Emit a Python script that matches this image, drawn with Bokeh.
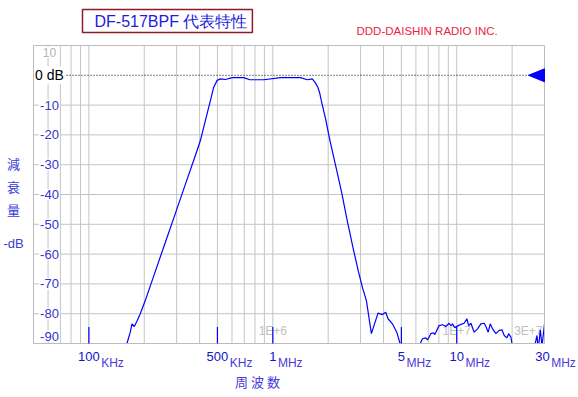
import math
from bokeh.plotting import figure
from bokeh.models import Label, Range1d
from bokeh.core.properties import value
from bokeh.embed import file_html
from bokeh.resources import INLINE

# ---------------- data ----------------
freq_hz = [148000, 161100, 167900, 171500, 176500, 182500, 190300, 202600, 229700, 260300,
           295100, 334600, 379300, 403900, 429900, 457900, 477100, 498000, 519000, 552600,
           601100, 695000, 749500, 893100, 1102000, 1416000, 1540000, 1639000, 1693000, 1758000,
           1803000, 1835000, 1936000, 2045000, 2196000, 2367000, 2552000, 2751000, 2930000, 3081000,
           3227000, 3436000, 3732000, 3944000, 4111000, 4231000, 4471000, 4719000, 4918000, 5283000,
           5768000, 6320000, 6512000, 6787000, 6934000, 7228000, 7475000, 7598000, 8018000, 8368000,
           8722000, 9091000, 9288000, 9486000, 9765000, 10180000, 10530000, 10970000, 11350000, 11600000,
           11940000, 12440000, 12980000, 13530000, 14100000, 14410000, 14830000, 15210000, 15670000, 16330000,
           17020000, 17610000, 18130000, 18750000, 19150000, 19710000, 19960000, 21780000, 24700000, 26730000,
           27310000, 27760000, 28470000, 29080000, 30000000]
atten_db = [-95, -90.0, -86.2, -83.4, -84.3, -82.5, -80.0, -75.6, -65.8, -56.1,
            -46.4, -36.6, -26.9, -21.9, -15.2, -8.5, -4.0, -1.7, -1.2, -1.4,
            -0.8, -0.8, -1.5, -1.5, -0.8, -0.8, -1.5, -1.2, -2.3, -4.0,
            -6.2, -8.5, -14.6, -21.9, -30.3, -39.3, -49.4, -58.8, -66.2, -71.5,
            -75.6, -86.7, -79.8, -80.3, -79.5, -81.7, -83.4, -86.2, -90.0, -94,
            -95, -90.1, -88.4, -88.1, -88.8, -86.7, -86.4, -87.0, -84.0, -83.7,
            -84.3, -83.2, -84.0, -83.4, -84.7, -84.0, -83.6, -83.2, -81.7, -84.0,
            -83.2, -86.2, -85.1, -83.4, -83.2, -84.3, -86.2, -83.4, -85.1, -86.7,
            -85.6, -85.4, -87.3, -88.1, -86.7, -87.9, -90.0, -94, -95, -90.0,
            -87.3, -92, -85.4, -91, -83.4]

x_grid_freqs = [6e4, 7e4, 8e4, 9e4,
                1e5, 2e5, 3e5, 4e5, 5e5, 6e5, 7e5, 8e5, 9e5,
                1e6, 2e6, 3e6, 4e6, 5e6, 6e6, 7e6, 8e6, 9e6,
                1e7, 2e7]
y_grid_db = [-80, -70, -60, -50, -40, -30, -20, -10]

y_tick_values = [10, 0, -10, -20, -30, -40, -50, -60, -70, -80, -90]
y_tick_labels = ["10", "0 dB", "-10", "-20", "-30", "-40", "-50", "-60", "-70", "-80", "-90"]

x_tick_freqs = [1e5, 5e5, 1e6, 5e6, 1e7, 3e7]
x_tick_numbers = ["100", "500", "1", "5", "10", "30"]
x_tick_units = ["KHz", "KHz", "MHz", "MHz", "MHz", "MHz"]

marker_freqs = [1e5, 5e5, 1e6, 5e6, 1e7]
exp_freqs = [1e6, 1e7]
exp_labels = ["1E+6", "1E+7"]
exp_right_freq = [3e7]
exp_right_label = ["3E+7"]

ref_level_db = 0

title_text = "DF-517BPF 代表特性"
company_text = "DDD-DAISHIN RADIO INC."
x_axis_title = "周 波 数"
y_axis_title = ["減", "衰", "量", "-dB"]

# ---------------- layout (page pixels) ----------------
X_MIN, X_MAX = 5e4, 3e7
Y_MIN, Y_MAX = -90, 10
FRAME_L, FRAME_R, FRAME_T, FRAME_B = 33, 544, 45, 343
W, H = 576, 395


def fx(px):
    return X_MIN * 10 ** ((px - FRAME_L) / (FRAME_R - FRAME_L) * math.log10(X_MAX / X_MIN))


def fy(py):
    return Y_MAX - (py - FRAME_T) / (FRAME_B - FRAME_T) * (Y_MAX - Y_MIN)


def dpy(n):
    return n * (Y_MAX - Y_MIN) / (FRAME_B - FRAME_T)


p = figure(width=W, height=H, x_axis_type="log",
           x_range=Range1d(fx(0), fx(W)), y_range=Range1d(fy(H), fy(0)),
           x_axis_location=None, y_axis_location=None, title=None,
           output_backend="svg", toolbar_location=None,
           min_border_left=0, min_border_top=0, min_border_right=0, min_border_bottom=0)
p.background_fill_color = "white"
p.border_fill_color = "white"
p.outline_line_color = None
p.xgrid.visible = False
p.ygrid.visible = False

GRID = "#c4c4c4"
# grid of the plotting area
p.segment(x0=x_grid_freqs, y0=[Y_MIN] * len(x_grid_freqs), x1=x_grid_freqs,
          y1=[Y_MAX] * len(x_grid_freqs), line_color=GRID, line_width=1)
p.segment(x0=[X_MIN] * len(y_grid_db), y0=y_grid_db, x1=[X_MAX] * len(y_grid_db),
          y1=y_grid_db, line_color=GRID, line_width=1)

# reference level dotted line
p.segment(x0=[X_MIN], y0=[ref_level_db], x1=[X_MAX], y1=[ref_level_db],
          line_color="black", line_dash="1 2", line_width=1)

# exponent hints inside the plot
p.text(x=exp_freqs, y=[fy(330)] * len(exp_freqs), text=exp_labels,
       text_font=value("Liberation Sans"), text_font_size="12px", text_color="#c0c0c0",
       text_align="center", text_baseline="middle")
p.text(x=exp_right_freq, y=[fy(330)], text=exp_right_label, x_offset=-2,
       text_font=value("Liberation Sans"), text_font_size="12px", text_color="#c0c0c0",
       text_align="right", text_baseline="middle")

# response curve
p.line(freq_hz, atten_db, line_color="#0000ff", line_width=1.2)

# mask anything of the curve that falls below the bottom of the plotting area
p.quad(left=[fx(0)], right=[fx(W)], bottom=[fy(H)], top=[Y_MIN],
       fill_color="white", line_color=None)

# plotting-area border
p.quad(left=[X_MIN], right=[X_MAX], bottom=[Y_MIN], top=[Y_MAX],
       fill_color=None, line_color="#bcbcbc", line_width=1)

# blue tick markers at bottom
p.segment(x0=marker_freqs, y0=[Y_MIN] * len(marker_freqs), x1=marker_freqs,
          y1=[fy(FRAME_B - 16.5)] * len(marker_freqs), line_color="#0000ff", line_width=1.2)

# reference arrow
p.patch(x=[fx(FRAME_R - 16), fx(FRAME_R), fx(FRAME_R)],
        y=[ref_level_db, ref_level_db + dpy(6.5), ref_level_db - dpy(6.5)],
        fill_color="#0000ff", line_color="#0000ff", line_width=1)


def lab(x, y, text, size, color, font="Liberation Sans", align="center", **kw):
    p.add_layout(Label(x=x, y=y, text=text, text_font=font, text_font_size=f"{size}px",
                       text_color=color, text_align=align, text_baseline="middle", **kw))


# y tick labels (inside the plotting area, white backed)
for v, t in zip(y_tick_values, y_tick_labels):
    ypos = v
    if v == Y_MAX:
        ypos = fy(FRAME_T + 7)
    elif v == Y_MIN:
        ypos = fy(FRAME_B - 7.5)
    if v > 0:
        color, size = "#b4b4b4", 12
    elif v == 0:
        color, size = "black", 14
    else:
        color, size = "#3333cc", 13
    lab(fx(49), ypos, t, size, color, background_fill_color="white", padding=1)

# x tick labels with unit suffix
for f, num, unit in zip(x_tick_freqs, x_tick_numbers, x_tick_units):
    shift = -2 if f == X_MAX else 0
    lab(f, fy(356), num, 13, "#1414c8", x_offset=shift)
    lab(f, fy(362.5), unit, 12, "#4a3ad8", align="left", x_offset=shift + 3.6 * len(num) + 1.5)

# axis titles
lab(fx(257), fy(381), x_axis_title, 13, "#4a3ad8", font="Noto Sans CJK JP")
for t, ypx in zip(y_axis_title, [163, 186, 209, 243]):
    font = "Liberation Sans" if t.startswith("-") else "Noto Sans CJK JP"
    lab(fx(13), fy(ypx), t, 13, "#3c3cd8", font=font)

# title box and company
p.add_layout(Label(x=fx(82), y=fy(20.5), text=title_text, text_font="Liberation Sans",
                   text_font_size="16px", text_color="#1c1cdc", text_align="left",
                   text_baseline="middle", border_line_color="#8b1a2b", border_line_width=1.5,
                   padding=dict(left=12, right=5, top=3, bottom=3)))
lab(fx(356), fy(30.5), company_text, 11.5, "#ee2244", align="left")

open("out.html", "w").write(file_html(p, INLINE))
